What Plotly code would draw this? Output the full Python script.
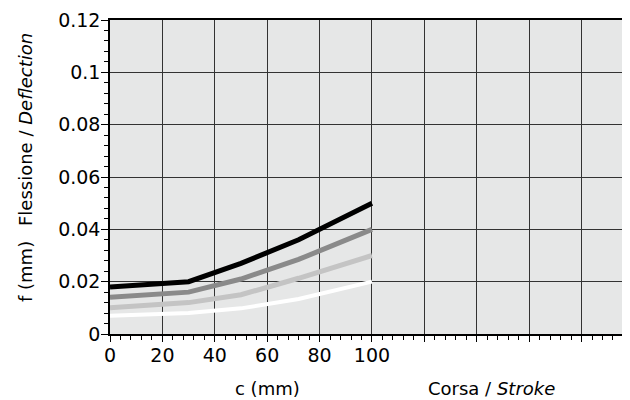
import plotly.graph_objects as go

stroke = [0, 30, 50, 72, 100]
series_black = [0.018, 0.020, 0.027, 0.036, 0.050]
series_dark = [0.014, 0.016, 0.021, 0.0285, 0.040]
series_light = [0.010, 0.012, 0.015, 0.0213, 0.030]
series_white = [0.007, 0.008, 0.0098, 0.0134, 0.020]

x_tickvals = [0, 20, 40, 60, 80, 100, 120, 140, 160, 180, 200]
x_ticktext = ["0", "20", "40", "60", "80", "100", "", "", "", "", ""]
y_tickvals = [0, 0.02, 0.04, 0.06, 0.08, 0.1, 0.12]
y_ticktext = ["0", "0.02", "0.04", "0.06", "0.08", "0.1", "0.12"]

FONT = "DejaVu Sans"

# page body adds an 8px offset; figure sized to fit the visible window
OFF = 8
W, H = 630 - OFF, 400 - OFF
L, T, B = 110 - OFF, 20 - OFF, 400 - 334
PW, PH = W - L, H - T - B

fig = go.Figure()
for vals, col, w in [
    (series_white, "#ffffff", 4),
    (series_light, "#c4c4c4", 5),
    (series_dark, "#8a8a8a", 5),
    (series_black, "#000000", 5),
]:
    fig.add_trace(go.Scatter(x=stroke, y=vals, mode="lines",
                             line=dict(color=col, width=w), showlegend=False,
                             hoverinfo="skip"))

fig.update_layout(
    width=W, height=H,
    margin=dict(l=L, r=0, t=T, b=B, pad=0),
    paper_bgcolor="white",
    plot_bgcolor="#e6e7e7",
    font=dict(family=FONT, color="black"),
    xaxis=dict(
        range=[0, 198.5], tickvals=x_tickvals, ticktext=x_ticktext,
        showgrid=True, gridcolor="#333333", gridwidth=1.2,
        showline=True, linecolor="black", linewidth=1.5, mirror=True,
        ticks="outside", ticklen=6, tickcolor="black", tickwidth=1.2,
        minor=dict(dtick=4, tick0=0, ticks="outside", ticklen=4,
                   tickcolor="black", tickwidth=1, showgrid=False),
        tickfont=dict(size=19, family=FONT),
        ticklabelstandoff=-3,
        zeroline=False, fixedrange=True,
    ),
    yaxis=dict(
        range=[0, 0.12], tickvals=y_tickvals, ticktext=y_ticktext,
        showgrid=True, gridcolor="#333333", gridwidth=1.2,
        showline=True, linecolor="black", linewidth=1.5,
        ticks="outside", ticklen=7, tickcolor="black", tickwidth=1.2,
        minor=dict(dtick=0.004, tick0=0, ticks="outside", ticklen=4,
                   tickcolor="black", tickwidth=1, showgrid=False),
        tickfont=dict(size=19, family=FONT),
        ticklabelstandoff=-3,
        zeroline=False, fixedrange=True,
    ),
)

def px(xs):
    return (xs - OFF - L) / PW

def py(ys):
    return (H - B - (ys - OFF)) / PH

fig.add_annotation(text="f (mm)", xref="paper", yref="paper",
                   x=px(25), y=py(272), xanchor="center", yanchor="middle",
                   textangle=-90, showarrow=False, font=dict(size=18, family=FONT))
fig.add_annotation(text="Flessione / <i>Deflection</i>", xref="paper", yref="paper",
                   x=px(25), y=py(130), xanchor="center", yanchor="middle",
                   textangle=-90, showarrow=False, font=dict(size=18, family=FONT))
fig.add_annotation(text="c (mm)", xref="paper", yref="paper",
                   x=px(267), y=py(388), xanchor="center", yanchor="middle",
                   showarrow=False, font=dict(size=18, family=FONT))
fig.add_annotation(text="Corsa / <i>Stroke</i>", xref="paper", yref="paper",
                   x=px(491), y=py(388), xanchor="center", yanchor="middle",
                   showarrow=False, font=dict(size=18, family=FONT))

fig.write_html("out.html")
